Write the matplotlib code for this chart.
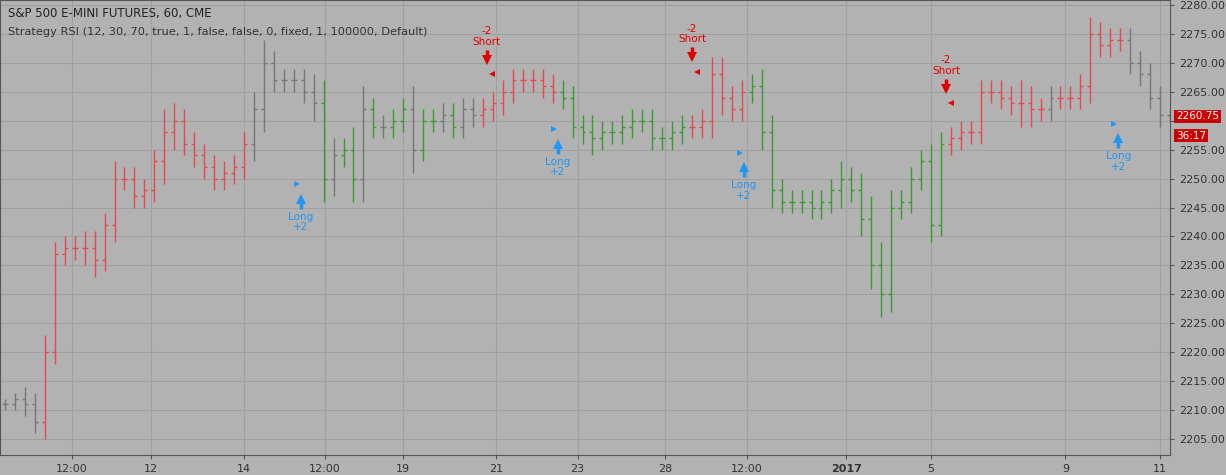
import matplotlib
matplotlib.use("Agg")
import matplotlib.pyplot as plt

closes = [2211,2212,2211,2208,2220,2237,2238,2238,2238,2236,2242,2250,2250,2247,2248,2253,2258,2260,2256,2254,
          2252,2250,2251,2252,2256,2262,2270,2267,2267,2267,2265,2263,2250,2254,2255,2250,2262,2259,2259,2260,
          2262,2255,2260,2260,2261,2259,2262,2261,2262,2263,2265,2267,2267,2267,2266,2265,2264,2259,2258,2257,
          2258,2258,2259,2260,2260,2257,2257,2258,2259,2259,2260,2268,2264,2262,2265,2266,2258,2248,2246,2246,
          2246,2245,2246,2248,2250,2248,2243,2235,2230,2245,2246,2250,2253,2242,2256,2257,2258,2258,2265,2265,
          2264,2263,2263,2262,2262,2264,2264,2264,2266,2275,2273,2274,2274,2270,2268,2264,2261,2260.75]
wicks = [1,1,2,2,3,2,2,2,3,3,2,3,2,2,2,2,4,3,2,2,2,2,2,2,2,3,4,2,2,2,2,3,4,3,2,4,4,2,2,2,
         2,4,2,2,2,2,2,2,2,2,2,2,2,2,2,2,2,2,2,3,2,2,2,2,2,2,2,2,2,2,2,3,3,2,2,2,3,3,2,2,
         2,2,2,2,3,2,3,4,4,3,2,2,2,3,2,2,2,2,2,2,2,2,4,3,2,2,2,2,2,3,2,2,2,2,2,2,2,1]
colors = ("gggg" + "r"*21 + "g"*7 + "GgGGgGgGGgGGgGgg" + "r"*8 + "G"*13 + "r"*6 + "G"*20 + "r"*10 + "g" + "r"*7 + "g")
cmap = {"g": "#777777", "r": "#e8474b", "G": "#3a9a2e"}
tick_pos = [6.7,14.7,24,32.1,40,49.3,57.5,66.3,74.5,84.5,93,106.5,116]
tick_lab = ["12:00","12","14","12:00","19","21","23","28","12:00","2017","5","9","11"]
longs = [(29.7,2246.5),(55.5,2256),(74.2,2252),(111.8,2257)]
shorts = [(48.4,2270.5),(69,2271),(94.5,2265.5)]
yticks = list(range(2205,2281,5))

fig = plt.figure(figsize=(12.26,4.75), dpi=100)
fig.patch.set_facecolor("#b2b2b2")
ax = fig.add_axes([0,1-455/475,1170/1226,455/475])
ax.set_facecolor("#b2b2b2")
ax.set_xlim(-0.5,117)
ax.set_ylim(2202.24,2280.86)
for t in yticks:
    ax.axhline(t,color="#a0a0a0",lw=0.8,zorder=0)
for t in tick_pos:
    ax.axvline(t,color="#a0a0a0",lw=0.8,zorder=0)
prev = closes[0]
for i,c in enumerate(closes):
    o = prev
    hi = max(o,c)+wicks[i]; lo = min(o,c)-wicks[i]
    col = cmap[colors[i] if i < len(colors) else "g"]
    ax.vlines(i,lo,hi,color=col,lw=1)
    ax.hlines(o,i-0.3,i,color=col,lw=1)
    ax.hlines(c,i,i+0.3,color=col,lw=1)
    prev = c
for x,y in longs:
    ax.plot([x,x],[y-1.7,y],color="#2196f3",lw=2.5,solid_capstyle="butt")
    ax.plot(x,y,marker="^",color="#2196f3",ms=7,mew=0)
    ax.text(x,y-2.2,"Long\n+2",color="#2196f3",fontsize=7.5,ha="center",va="top",linespacing=1.1)
    ax.plot(x-0.4,y+2.5,marker=">",color="#2196f3",ms=5,mew=0)
for x,y in shorts:
    ax.plot([x,x],[y+1.7,y],color="#e00000",lw=2.5,solid_capstyle="butt")
    ax.plot(x,y,marker="v",color="#e00000",ms=7,mew=0)
    ax.text(x,y+2.2,"-2\nShort",color="#e00000",fontsize=7.5,ha="center",va="bottom",linespacing=1.1)
    ax.plot(x+0.5,y-2.5,marker="<",color="#e00000",ms=5,mew=0)
ax.set_xticks(tick_pos)
ax.set_xticklabels(tick_lab,fontsize=8,color="#333333")
for lab in ax.get_xticklabels():
    if lab.get_text()=="2017": lab.set_fontweight("bold")
ax.yaxis.tick_right()
ax.set_yticks(yticks)
ax.set_yticklabels(["" if t == 2260 else f"{t:.2f}" for t in yticks],fontsize=8,color="#333333")
ax.tick_params(length=3,color="#555555")
for s in ax.spines.values(): s.set_color("#555555")
ax.text(0.007,0.985,"S&P 500 E-MINI FUTURES, 60, CME",transform=ax.transAxes,fontsize=8.5,color="#222222",va="top")
ax.text(0.007,0.94,"Strategy RSI (12, 30, 70, true, 1, false, false, 0, fixed, 1, 100000, Default)",transform=ax.transAxes,fontsize=8.2,color="#333333",va="top")
ax.text(117.6,2260.75,"2260.75",fontsize=7.5,color="white",va="center",ha="left",bbox=dict(boxstyle="square,pad=0.15",fc="#cc0000",ec="none"),clip_on=False)
ax.text(117.6,2257.4,"36:17",fontsize=7.5,color="white",va="center",ha="left",bbox=dict(boxstyle="square,pad=0.15",fc="#cc0000",ec="none"),clip_on=False)
fig.savefig("out.png",dpi=100,facecolor=fig.get_facecolor())
